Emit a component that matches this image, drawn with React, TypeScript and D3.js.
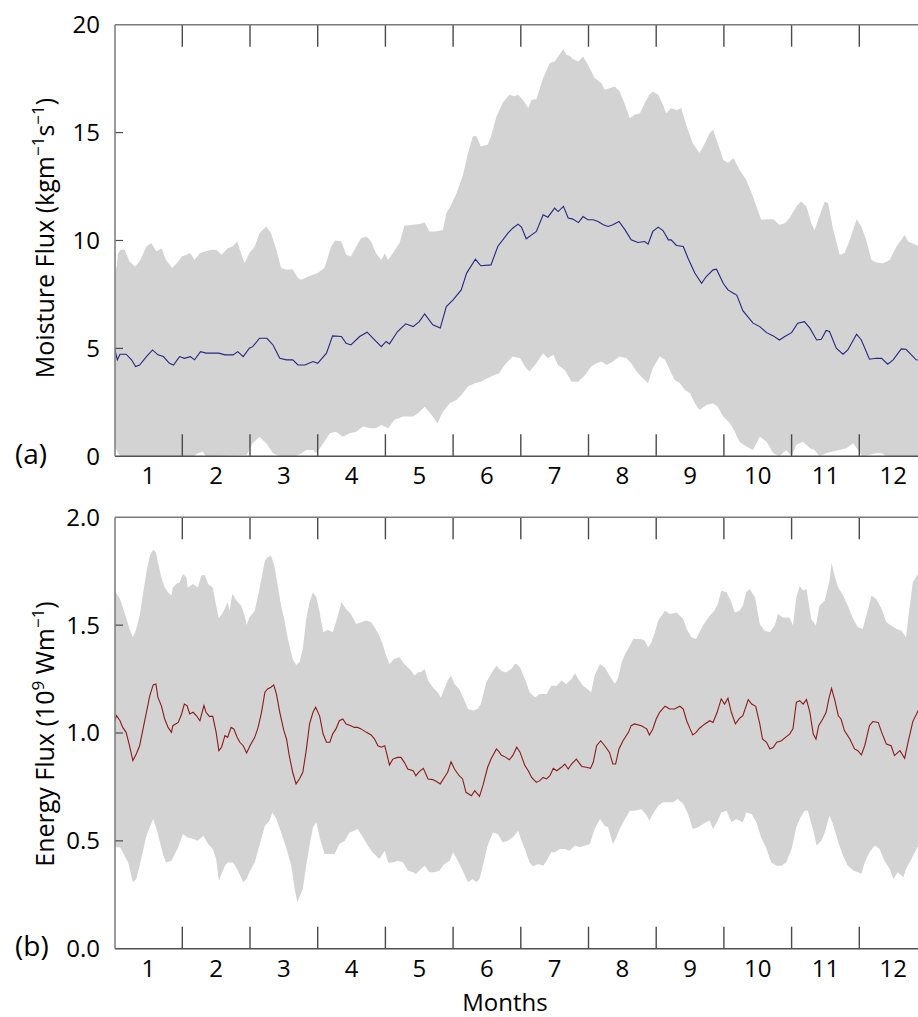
import React from "react";
import * as d3 from "d3";

type P = [number, number];

const months = [1, 2, 3, 4, 5, 6, 7, 8, 9, 10, 11, 12];
const moistureTicks = [0, 5, 10, 15, 20];
const energyTicks = [0, 0.5, 1.0, 1.5, 2.0];

const moistureMean: P[] = [
  [0.5, 5.01], [0.54, 4.47], [0.58, 4.73], [0.67, 4.73], [0.75, 4.47], [0.81, 4.16], [0.87, 4.23], [0.97, 4.62],
  [1.06, 4.93], [1.14, 4.7], [1.22, 4.62], [1.31, 4.31], [1.37, 4.23], [1.46, 4.62], [1.53, 4.54], [1.62, 4.62],
  [1.68, 4.47], [1.77, 4.85], [1.85, 4.78], [1.95, 4.78], [2.04, 4.78], [2.13, 4.7], [2.25, 4.7], [2.32, 4.85],
  [2.4, 4.62], [2.49, 5.01], [2.54, 5.08], [2.64, 5.47], [2.75, 5.47], [2.84, 5.16], [2.94, 4.54], [3.04, 4.47],
  [3.13, 4.47], [3.21, 4.23], [3.31, 4.23], [3.43, 4.39], [3.5, 4.31], [3.63, 4.78], [3.72, 5.58], [3.85, 5.55],
  [3.92, 5.24], [3.99, 5.16], [4.12, 5.55], [4.23, 5.75], [4.34, 5.39], [4.44, 5.08], [4.51, 5.32], [4.56, 5.21],
  [4.68, 5.78], [4.8, 6.14], [4.91, 6.01], [5.0, 6.24], [5.08, 6.6], [5.2, 6.09], [5.31, 5.94], [5.4, 6.94],
  [5.5, 7.25], [5.62, 7.71], [5.7, 8.49], [5.83, 9.13], [5.91, 8.83], [6.06, 8.87], [6.16, 9.72], [6.31, 10.34],
  [6.38, 10.57], [6.46, 10.76], [6.51, 10.62], [6.58, 10.08], [6.66, 10.26], [6.73, 10.42], [6.83, 11.19],
  [6.9, 11.08], [7.0, 11.5], [7.05, 11.34], [7.13, 11.58], [7.2, 11.04], [7.27, 10.99], [7.35, 10.83], [7.42, 11.11],
  [7.49, 10.96], [7.57, 10.96], [7.64, 10.88], [7.72, 10.73], [7.79, 10.65], [7.86, 10.73], [7.95, 10.88],
  [8.04, 10.49], [8.13, 10.03], [8.23, 9.91], [8.33, 9.95], [8.38, 9.83], [8.45, 10.42], [8.53, 10.62], [8.6, 10.46],
  [8.68, 10.03], [8.72, 10.03], [8.8, 9.77], [8.9, 9.72], [8.97, 9.18], [9.07, 8.49], [9.17, 8.02], [9.24, 8.33],
  [9.34, 8.64], [9.39, 8.67], [9.49, 8.02], [9.56, 7.71], [9.64, 7.56], [9.69, 7.47], [9.78, 6.75], [9.93, 6.17],
  [10.03, 6.01], [10.13, 5.73], [10.23, 5.58], [10.32, 5.39], [10.4, 5.55], [10.5, 5.73], [10.59, 6.17],
  [10.69, 6.24], [10.77, 5.94], [10.87, 5.39], [10.94, 5.42], [11.01, 5.83], [11.06, 5.78], [11.16, 5.01],
  [11.26, 4.73], [11.33, 4.93], [11.46, 5.66], [11.53, 5.39], [11.65, 4.5], [11.75, 4.54], [11.83, 4.54],
  [11.92, 4.27], [12.0, 4.47], [12.12, 4.98], [12.19, 4.96], [12.34, 4.47], [12.4, 4.45],
];

const moistureUpper: P[] = [
  [0.48, 8.33], [0.53, 8.79], [0.55, 9.41], [0.59, 9.57], [0.65, 9.57], [0.72, 9.03], [0.8, 8.79], [0.87, 9.03],
  [0.97, 9.72], [1.04, 9.88], [1.12, 9.49], [1.19, 9.64], [1.26, 9.1], [1.35, 8.72], [1.44, 9.03], [1.49, 9.26],
  [1.56, 9.34], [1.62, 9.41], [1.68, 9.1], [1.76, 9.41], [1.83, 9.49], [1.93, 9.57], [2.0, 9.57], [2.08, 9.34],
  [2.17, 9.64], [2.24, 9.72], [2.31, 9.95], [2.35, 9.57], [2.42, 8.95], [2.49, 9.41], [2.57, 9.72], [2.64, 10.34],
  [2.74, 10.65], [2.81, 10.34], [2.89, 9.57], [2.96, 8.72], [3.04, 8.64], [3.13, 8.67], [3.21, 8.25], [3.26, 8.18],
  [3.36, 8.33], [3.43, 8.41], [3.5, 8.49], [3.6, 8.72], [3.7, 9.72], [3.76, 10.0], [3.85, 9.95], [3.92, 9.34],
  [3.99, 9.26], [4.07, 9.72], [4.14, 10.11], [4.22, 10.19], [4.29, 9.95], [4.36, 9.41], [4.44, 9.1], [4.49, 9.41],
  [4.54, 9.1], [4.61, 9.41], [4.71, 9.88], [4.78, 10.68], [4.91, 10.73], [5.0, 10.77], [5.08, 10.83], [5.15, 10.42],
  [5.23, 10.42], [5.35, 10.49], [5.4, 11.27], [5.47, 11.65], [5.55, 12.19], [5.64, 12.97], [5.72, 14.05],
  [5.79, 14.82], [5.84, 14.85], [5.91, 14.36], [6.01, 14.44], [6.06, 14.82], [6.14, 15.75], [6.23, 16.37],
  [6.33, 16.75], [6.41, 16.68], [6.46, 16.75], [6.53, 16.52], [6.61, 16.14], [6.66, 16.52], [6.73, 16.55],
  [6.83, 17.53], [6.93, 18.22], [7.0, 18.3], [7.05, 18.53], [7.13, 18.87], [7.17, 18.61], [7.22, 18.56],
  [7.27, 18.41], [7.35, 18.3], [7.42, 18.53], [7.49, 18.15], [7.59, 17.53], [7.69, 17.3], [7.74, 16.99],
  [7.81, 17.06], [7.89, 17.14], [7.96, 16.91], [8.04, 16.29], [8.11, 15.67], [8.18, 15.83], [8.26, 15.9],
  [8.33, 16.37], [8.4, 16.75], [8.45, 16.91], [8.53, 16.75], [8.6, 16.29], [8.65, 15.9], [8.72, 16.14], [8.8, 16.03],
  [8.87, 16.14], [8.95, 15.29], [9.04, 14.51], [9.14, 14.05], [9.22, 14.51], [9.29, 14.98], [9.34, 15.13],
  [9.41, 14.51], [9.49, 13.74], [9.56, 13.59], [9.64, 13.82], [9.73, 13.28], [9.83, 12.81], [9.93, 12.04],
  [10.05, 10.96], [10.13, 10.99], [10.23, 10.99], [10.32, 10.73], [10.4, 10.8], [10.47, 11.04], [10.57, 11.58],
  [10.64, 11.81], [10.72, 11.58], [10.79, 10.8], [10.84, 10.49], [10.91, 11.11], [10.99, 11.81], [11.04, 11.73],
  [11.11, 10.57], [11.21, 9.34], [11.28, 9.41], [11.36, 10.03], [11.46, 10.99], [11.53, 10.65], [11.6, 10.03],
  [11.68, 9.1], [11.75, 8.98], [11.85, 8.95], [11.95, 9.1], [12.05, 9.72], [12.17, 10.26], [12.22, 9.95],
  [12.4, 9.72],
];

const moistureLower: P[] = [
  [0.48, 0.76], [0.53, 0.29], [0.58, 0], [1.66, 0], [1.73, 0.14], [1.8, 0.22], [1.85, 0], [2.45, 0.06],
  [2.54, 0.6], [2.64, 0.91], [2.74, 0.6], [2.84, 0.14], [2.94, 0], [3.18, 0], [3.26, 0.14], [3.33, 0.29],
  [3.43, 0.29], [3.48, 0.14], [3.55, 0.45], [3.68, 1.07], [3.77, 1.14], [3.87, 0.91], [3.97, 1.07], [4.07, 1.14],
  [4.17, 1.38], [4.27, 1.3], [4.36, 1.3], [4.44, 1.45], [4.54, 1.3], [4.63, 1.68], [4.76, 1.84], [4.91, 1.84],
  [4.98, 1.99], [5.08, 2.3], [5.18, 1.92], [5.27, 1.53], [5.35, 2.07], [5.45, 2.46], [5.55, 2.61], [5.62, 2.84],
  [5.72, 3.23], [5.82, 3.38], [5.91, 3.46], [6.01, 3.62], [6.11, 3.77], [6.18, 3.85], [6.26, 4.23], [6.38, 4.62],
  [6.49, 4.54], [6.58, 4.08], [6.63, 3.93], [6.73, 4.31], [6.83, 4.78], [6.9, 4.54], [6.98, 4.7], [7.05, 4.23],
  [7.15, 4.0], [7.25, 3.46], [7.35, 3.46], [7.45, 3.77], [7.54, 4.16], [7.62, 4.31], [7.69, 4.39], [7.77, 4.23],
  [7.86, 4.39], [7.96, 4.62], [8.06, 4.54], [8.13, 4.31], [8.23, 3.85], [8.33, 3.54], [8.38, 3.38], [8.45, 4.08],
  [8.55, 4.62], [8.63, 4.47], [8.7, 4.0], [8.77, 3.54], [8.85, 3.38], [8.92, 3.08], [9.0, 2.92], [9.07, 2.46],
  [9.14, 2.15], [9.24, 2.38], [9.34, 2.46], [9.41, 2.3], [9.49, 1.84], [9.59, 1.53], [9.66, 1.14], [9.73, 0.68],
  [9.83, 0.45], [9.93, 0.29], [10.03, 0.91], [10.13, 0.68], [10.23, 0.14], [10.32, 0], [10.42, 0.29], [10.5, 0],
  [10.57, 0.53], [10.67, 0.68], [10.77, 0.37], [10.84, 0.29], [10.91, 0], [11.01, 0.14], [11.11, 0.22],
  [11.21, 0.29], [11.31, 0.37], [11.41, 0.6], [11.48, 0.29], [11.55, 0], [11.75, 0.14], [11.83, 0.14], [11.9, 0],
  [12.4, 0],
];

const energyMean: P[] = [
  [0.48, 1.042], [0.53, 1.08], [0.58, 1.057], [0.62, 1.026], [0.67, 1.003], [0.72, 0.941], [0.77, 0.872],
  [0.82, 0.903], [0.87, 0.941], [0.92, 1.019], [0.97, 1.096], [1.02, 1.173], [1.07, 1.223], [1.11, 1.227],
  [1.14, 1.165], [1.19, 1.127], [1.24, 1.065], [1.29, 1.026], [1.34, 1.003], [1.36, 1.034], [1.44, 1.049],
  [1.49, 1.088], [1.53, 1.134], [1.57, 1.127], [1.61, 1.088], [1.66, 1.096], [1.71, 1.08], [1.76, 1.057],
  [1.82, 1.127], [1.85, 1.096], [1.9, 1.077], [1.95, 1.077], [2.0, 1.003], [2.04, 0.918], [2.08, 0.934],
  [2.13, 0.988], [2.17, 0.98], [2.22, 1.026], [2.26, 1.019], [2.31, 0.98], [2.35, 0.957], [2.4, 0.941],
  [2.45, 0.907], [2.5, 0.941], [2.57, 0.98], [2.62, 1.026], [2.67, 1.096], [2.72, 1.189], [2.76, 1.204],
  [2.81, 1.212], [2.85, 1.223], [2.89, 1.181], [2.94, 1.096], [3.0, 1.011], [3.04, 0.972], [3.08, 0.895],
  [3.13, 0.818], [3.18, 0.764], [3.23, 0.787], [3.28, 0.818], [3.33, 0.918], [3.38, 1.042], [3.43, 1.096],
  [3.47, 1.119], [3.53, 1.077], [3.58, 0.995], [3.63, 0.957], [3.68, 0.957], [3.72, 0.995], [3.77, 1.019],
  [3.82, 1.057], [3.87, 1.065], [3.92, 1.042], [3.99, 1.034], [4.04, 1.026], [4.09, 1.026], [4.14, 1.019],
  [4.22, 1.003], [4.29, 0.991], [4.34, 0.972], [4.39, 0.941], [4.44, 0.934], [4.49, 0.941], [4.54, 0.879],
  [4.56, 0.852], [4.61, 0.879], [4.68, 0.887], [4.73, 0.887], [4.78, 0.864], [4.83, 0.833], [4.91, 0.825],
  [4.95, 0.802], [5.0, 0.821], [5.06, 0.836], [5.13, 0.787], [5.2, 0.784], [5.26, 0.774], [5.31, 0.764],
  [5.37, 0.794], [5.42, 0.818], [5.47, 0.867], [5.52, 0.833], [5.59, 0.802], [5.64, 0.787], [5.69, 0.725],
  [5.77, 0.709], [5.82, 0.733], [5.89, 0.706], [5.94, 0.756], [6.01, 0.841], [6.06, 0.879], [6.14, 0.926],
  [6.18, 0.913], [6.21, 0.898], [6.28, 0.887], [6.33, 0.876], [6.38, 0.895], [6.44, 0.934], [6.49, 0.91],
  [6.56, 0.849], [6.61, 0.825], [6.66, 0.794], [6.73, 0.771], [6.78, 0.779], [6.83, 0.794], [6.88, 0.787],
  [6.93, 0.802], [6.98, 0.836], [7.03, 0.825], [7.1, 0.841], [7.15, 0.856], [7.2, 0.833], [7.25, 0.856],
  [7.32, 0.879], [7.4, 0.845], [7.47, 0.841], [7.53, 0.836], [7.57, 0.864], [7.62, 0.941], [7.68, 0.964],
  [7.74, 0.941], [7.81, 0.91], [7.86, 0.856], [7.9, 0.856], [7.95, 0.926], [8.01, 0.964], [8.09, 1.003],
  [8.13, 1.034], [8.18, 1.042], [8.28, 1.034], [8.36, 1.019], [8.4, 0.991], [8.45, 1.019], [8.5, 1.065],
  [8.55, 1.096], [8.63, 1.124], [8.7, 1.111], [8.77, 1.111], [8.85, 1.124], [8.9, 1.111], [8.95, 1.057],
  [9.0, 1.019], [9.04, 0.991], [9.09, 1.003], [9.14, 1.022], [9.22, 1.042], [9.29, 1.057], [9.34, 1.049],
  [9.4, 1.096], [9.46, 1.158], [9.51, 1.134], [9.56, 1.161], [9.61, 1.096], [9.67, 1.042], [9.73, 1.068],
  [9.78, 1.08], [9.86, 1.155], [9.91, 1.134], [9.97, 1.124], [10.03, 1.042], [10.07, 0.972], [10.13, 0.957],
  [10.18, 0.926], [10.23, 0.934], [10.28, 0.957], [10.35, 0.964], [10.41, 0.98], [10.47, 0.995], [10.52, 1.019],
  [10.57, 1.142], [10.62, 1.15], [10.67, 1.134], [10.72, 1.155], [10.77, 1.096], [10.82, 0.995], [10.86, 0.972],
  [10.9, 1.034], [10.96, 1.065], [11.01, 1.096], [11.05, 1.158], [11.09, 1.207], [11.14, 1.15], [11.19, 1.08],
  [11.23, 1.065], [11.28, 1.011], [11.36, 0.972], [11.43, 0.926], [11.48, 0.918], [11.53, 0.898], [11.58, 0.941],
  [11.65, 1.034], [11.7, 1.053], [11.78, 1.049], [11.83, 1.003], [11.9, 0.949], [11.97, 0.941], [12.02, 0.895],
  [12.1, 0.918], [12.17, 0.883], [12.22, 0.957], [12.29, 1.053], [12.37, 1.104], [12.4, 1.11],
];

const energyUpper: P[] = [
  [0.48, 1.675], [0.53, 1.645], [0.58, 1.621], [0.62, 1.583], [0.67, 1.536], [0.72, 1.482], [0.77, 1.444],
  [0.82, 1.482], [0.87, 1.544], [0.92, 1.645], [0.97, 1.745], [1.02, 1.822], [1.07, 1.85], [1.11, 1.838],
  [1.14, 1.791], [1.19, 1.722], [1.24, 1.675], [1.29, 1.652], [1.34, 1.637], [1.36, 1.675], [1.41, 1.691],
  [1.46, 1.699], [1.51, 1.737], [1.56, 1.722], [1.58, 1.675], [1.66, 1.691], [1.73, 1.675], [1.78, 1.73],
  [1.83, 1.733], [1.88, 1.691], [1.95, 1.675], [2.0, 1.59], [2.04, 1.532], [2.1, 1.559], [2.17, 1.606],
  [2.2, 1.567], [2.24, 1.645], [2.3, 1.614], [2.37, 1.59], [2.42, 1.544], [2.45, 1.501], [2.49, 1.536],
  [2.57, 1.567], [2.64, 1.668], [2.72, 1.799], [2.76, 1.815], [2.81, 1.822], [2.86, 1.776], [2.91, 1.683],
  [2.96, 1.59], [3.01, 1.521], [3.06, 1.436], [3.13, 1.343], [3.18, 1.315], [3.23, 1.328], [3.28, 1.389],
  [3.33, 1.529], [3.38, 1.606], [3.43, 1.652], [3.48, 1.629], [3.53, 1.559], [3.58, 1.467], [3.65, 1.479],
  [3.72, 1.467], [3.77, 1.513], [3.85, 1.606], [3.92, 1.575], [3.99, 1.552], [4.07, 1.505], [4.14, 1.513],
  [4.22, 1.521], [4.29, 1.513], [4.34, 1.49], [4.41, 1.451], [4.46, 1.413], [4.51, 1.359], [4.56, 1.32],
  [4.63, 1.343], [4.71, 1.351], [4.78, 1.32], [4.88, 1.289], [4.93, 1.266], [4.98, 1.281], [5.03, 1.284],
  [5.08, 1.297], [5.13, 1.243], [5.2, 1.212], [5.27, 1.189], [5.32, 1.165], [5.37, 1.204], [5.42, 1.243],
  [5.47, 1.266], [5.52, 1.227], [5.59, 1.204], [5.67, 1.15], [5.72, 1.111], [5.79, 1.104], [5.86, 1.111],
  [5.91, 1.134], [5.99, 1.235], [6.06, 1.274], [6.14, 1.312], [6.21, 1.289], [6.28, 1.281], [6.36, 1.297],
  [6.41, 1.32], [6.44, 1.32], [6.49, 1.304], [6.53, 1.274], [6.58, 1.235], [6.63, 1.189], [6.71, 1.165],
  [6.78, 1.181], [6.88, 1.181], [6.95, 1.219], [7.03, 1.219], [7.1, 1.243], [7.17, 1.227], [7.25, 1.25],
  [7.3, 1.278], [7.35, 1.25], [7.42, 1.219], [7.47, 1.207], [7.54, 1.189], [7.59, 1.266], [7.67, 1.32],
  [7.74, 1.304], [7.81, 1.266], [7.89, 1.227], [7.94, 1.258], [7.99, 1.328], [8.04, 1.366], [8.11, 1.405],
  [8.16, 1.436], [8.28, 1.436], [8.33, 1.428], [8.38, 1.397], [8.43, 1.42], [8.48, 1.467], [8.53, 1.521],
  [8.63, 1.567], [8.7, 1.552], [8.8, 1.559], [8.9, 1.529], [8.95, 1.482], [9.02, 1.444], [9.09, 1.436],
  [9.19, 1.498], [9.29, 1.544], [9.36, 1.567], [9.41, 1.598], [9.46, 1.66], [9.54, 1.652], [9.61, 1.606],
  [9.66, 1.559], [9.73, 1.567], [9.78, 1.59], [9.83, 1.652], [9.88, 1.668], [9.96, 1.629], [10.03, 1.505],
  [10.1, 1.474], [10.18, 1.467], [10.25, 1.498], [10.3, 1.552], [10.37, 1.536], [10.47, 1.536], [10.52, 1.498],
  [10.57, 1.629], [10.62, 1.68], [10.67, 1.66], [10.72, 1.668], [10.79, 1.529], [10.86, 1.498], [10.91, 1.59],
  [10.99, 1.614], [11.06, 1.706], [11.09, 1.791], [11.14, 1.722], [11.19, 1.675], [11.26, 1.637], [11.33, 1.59],
  [11.41, 1.529], [11.48, 1.49], [11.55, 1.482], [11.63, 1.575], [11.68, 1.637], [11.75, 1.621], [11.83, 1.575],
  [11.9, 1.513], [11.97, 1.498], [12.05, 1.482], [12.12, 1.474], [12.19, 1.444], [12.24, 1.575], [12.29, 1.699],
  [12.37, 1.737], [12.4, 1.74],
];

const energyLower: P[] = [
  [0.48, 0.478], [0.53, 0.47], [0.58, 0.47], [0.62, 0.447], [0.7, 0.4], [0.77, 0.308], [0.82, 0.323],
  [0.87, 0.385], [0.92, 0.454], [0.97, 0.524], [1.02, 0.563], [1.07, 0.601], [1.12, 0.555], [1.17, 0.493],
  [1.22, 0.431], [1.26, 0.4], [1.34, 0.408], [1.39, 0.439], [1.44, 0.47], [1.51, 0.532], [1.58, 0.516],
  [1.66, 0.509], [1.73, 0.501], [1.81, 0.524], [1.88, 0.485], [1.95, 0.462], [2.0, 0.416], [2.04, 0.315],
  [2.08, 0.346], [2.13, 0.385], [2.17, 0.4], [2.25, 0.4], [2.32, 0.362], [2.4, 0.308], [2.45, 0.323],
  [2.49, 0.354], [2.57, 0.4], [2.64, 0.478], [2.72, 0.57], [2.79, 0.594], [2.83, 0.632], [2.89, 0.601],
  [2.96, 0.539], [3.04, 0.462], [3.11, 0.385], [3.16, 0.277], [3.2, 0.215], [3.23, 0.238], [3.28, 0.277],
  [3.33, 0.385], [3.38, 0.478], [3.43, 0.563], [3.48, 0.586], [3.53, 0.516], [3.6, 0.439], [3.68, 0.439],
  [3.75, 0.439], [3.82, 0.485], [3.9, 0.501], [3.97, 0.539], [4.04, 0.547], [4.09, 0.555], [4.17, 0.516],
  [4.24, 0.478], [4.31, 0.447], [4.41, 0.416], [4.49, 0.454], [4.54, 0.4], [4.61, 0.4], [4.68, 0.408],
  [4.76, 0.4], [4.83, 0.362], [4.91, 0.354], [4.95, 0.346], [5.0, 0.362], [5.08, 0.385], [5.15, 0.354],
  [5.23, 0.354], [5.3, 0.362], [5.37, 0.393], [5.45, 0.408], [5.5, 0.447], [5.57, 0.408], [5.64, 0.362],
  [5.72, 0.308], [5.79, 0.323], [5.84, 0.308], [5.89, 0.323], [5.94, 0.385], [6.01, 0.478], [6.09, 0.539],
  [6.16, 0.532], [6.23, 0.493], [6.31, 0.501], [6.38, 0.516], [6.46, 0.547], [6.51, 0.501], [6.56, 0.462],
  [6.63, 0.4], [6.68, 0.382], [6.76, 0.393], [6.83, 0.385], [6.88, 0.408], [6.95, 0.447], [7.0, 0.447],
  [7.08, 0.462], [7.15, 0.462], [7.22, 0.454], [7.3, 0.478], [7.37, 0.47], [7.45, 0.478], [7.52, 0.485],
  [7.59, 0.555], [7.67, 0.601], [7.74, 0.57], [7.79, 0.563], [7.86, 0.485], [7.91, 0.516], [7.96, 0.555],
  [8.04, 0.601], [8.11, 0.64], [8.18, 0.64], [8.28, 0.648], [8.36, 0.617], [8.4, 0.594], [8.45, 0.624],
  [8.53, 0.663], [8.6, 0.679], [8.75, 0.679], [8.82, 0.694], [8.9, 0.671], [8.97, 0.624], [9.04, 0.555],
  [9.12, 0.563], [9.19, 0.578], [9.29, 0.594], [9.34, 0.555], [9.41, 0.594], [9.46, 0.632], [9.54, 0.64],
  [9.61, 0.586], [9.68, 0.601], [9.78, 0.586], [9.83, 0.632], [9.91, 0.624], [9.98, 0.586], [10.05, 0.516],
  [10.13, 0.462], [10.2, 0.4], [10.28, 0.385], [10.35, 0.385], [10.42, 0.4], [10.5, 0.462], [10.57, 0.563],
  [10.62, 0.601], [10.69, 0.64], [10.74, 0.64], [10.82, 0.547], [10.87, 0.478], [10.94, 0.501], [10.99, 0.539],
  [11.06, 0.617], [11.11, 0.578], [11.19, 0.493], [11.26, 0.431], [11.33, 0.385], [11.41, 0.362], [11.48, 0.354],
  [11.53, 0.346], [11.58, 0.4], [11.65, 0.447], [11.73, 0.478], [11.8, 0.462], [11.87, 0.408], [11.95, 0.369],
  [12.0, 0.323], [12.07, 0.354], [12.15, 0.331], [12.19, 0.369], [12.27, 0.416], [12.37, 0.478], [12.4, 0.48],
];

const FONT = "'Open Sans', 'Noto Sans', sans-serif";

const x = d3.scaleLinear().domain([0.5, 12.5]).range([114.6, 927]);
const plotLeft = 115;
const plotRight = 918;

type PanelProps = {
  id: string;
  y: d3.ScaleLinear<number, number>;
  mean: P[];
  upper: P[];
  lower: P[];
  color: string;
  ticks: number[];
  fmt: (v: number) => string;
  letter: string;
  letterY: number;
  label: React.ReactNode;
  labelCY: number;
};

function Panel(p: PanelProps) {
  const [y0, y1] = p.y.range();
  const line = d3
    .line<P>()
    .x((d) => x(d[0]))
    .y((d) => p.y(d[1]));
  const up = line(p.upper) || "";
  const lo = line(p.lower.slice().reverse()) || "";
  const band = up + "L" + lo.slice(1) + "Z";
  const boundaries = months.slice(0, -1).map((m) => m + 0.5);
  return (
    <g>
      <defs>
        <clipPath id={p.id}>
          <rect x={plotLeft} y={y1} width={plotRight - plotLeft} height={y0 - y1} />
        </clipPath>
      </defs>
      <g clipPath={`url(#${p.id})`}>
        <path d={band} fill="#d3d3d3" stroke="none" />
        <path d={line(p.mean) || ""} fill="none" stroke={p.color} strokeWidth={1.1} />
      </g>
      {boundaries.map((b) => (
        <g key={b}>
          <line x1={x(b)} x2={x(b)} y1={y1} y2={y1 + 22} stroke="#4a4a4a" strokeWidth={1.4} />
          <line x1={x(b)} x2={x(b)} y1={y0} y2={y0 - 22} stroke="#4a4a4a" strokeWidth={1.4} />
        </g>
      ))}
      {p.ticks.slice(1, -1).map((t) => (
        <line key={t} x1={plotLeft} x2={plotLeft + 8} y1={p.y(t)} y2={p.y(t)} stroke="#4a4a4a" strokeWidth={1.2} />
      ))}
      <line x1={plotLeft} x2={plotRight} y1={y1} y2={y1} stroke="#7a7a7a" strokeWidth={1.6} />
      <line x1={plotLeft} x2={plotRight} y1={y0} y2={y0} stroke="#505050" strokeWidth={1.6} />
      <line x1={plotLeft} x2={plotLeft} y1={y1} y2={y0} stroke="#808080" strokeWidth={1.6} />
      {p.ticks.map((t) => (
        <text
          key={t}
          x={100}
          y={p.y(t)}
          dy="0.35em"
          textAnchor="end"
          fontFamily={FONT}
          fontSize={24}
          fill="#000"
        >
          {p.fmt(t)}
        </text>
      ))}
      {months.map((m) => (
        <text key={m} x={x(m)} y={y0 + 28} textAnchor="middle" fontFamily={FONT} fontSize={24} fill="#000">
          {m}
        </text>
      ))}
      <text x={15} y={p.letterY} fontFamily={FONT} fontSize={28} fill="#000">
        {p.letter}
      </text>
      <text
        transform={`translate(54,${p.labelCY}) rotate(-90)`}
        textAnchor="middle"
        fontFamily={FONT}
        fontSize={25}
        fill="#000"
      >
        {p.label}
      </text>
    </g>
  );
}

export default function App() {
  const yTop = d3.scaleLinear().domain([0, 20]).range([456.3, 24.7]);
  const yBot = d3.scaleLinear().domain([0, 2]).range([948.7, 517.3]);
  const sup = { fontSize: 17 };
  return (
    <svg
      width={918}
      height={1017}
      viewBox="0 0 918 1017"
      style={{ position: "absolute", left: 0, top: 0, background: "#fff", display: "block" }}
    >
      <rect x={0} y={0} width={918} height={1017} fill="#fff" />
      <Panel
        id="clipA"
        y={yTop}
        mean={moistureMean}
        upper={moistureUpper}
        lower={moistureLower}
        color="#262680"
        ticks={moistureTicks}
        fmt={(v) => String(v)}
        letter="(a)"
        letterY={464}
        labelCY={238}
        label={
          <>
            Moisture Flux (kgm
            <tspan dy={-10} style={sup}>−1</tspan>
            <tspan dy={10}>s</tspan>
            <tspan dy={-10} style={sup}>−1</tspan>
            <tspan dy={10}>)</tspan>
          </>
        }
      />
      <Panel
        id="clipB"
        y={yBot}
        mean={energyMean}
        upper={energyUpper}
        lower={energyLower}
        color="#8b1a1a"
        ticks={energyTicks}
        fmt={(v) => v.toFixed(1)}
        letter="(b)"
        letterY={956}
        labelCY={734}
        label={
          <>
            Energy Flux (10
            <tspan dy={-10} style={sup}>9</tspan>
            <tspan dy={10}> Wm</tspan>
            <tspan dy={-10} style={sup}>−1</tspan>
            <tspan dy={10}>)</tspan>
          </>
        }
      />
      <text x={505} y={1011} textAnchor="middle" fontFamily={FONT} fontSize={24} fill="#000">
        Months
      </text>
    </svg>
  );
}
